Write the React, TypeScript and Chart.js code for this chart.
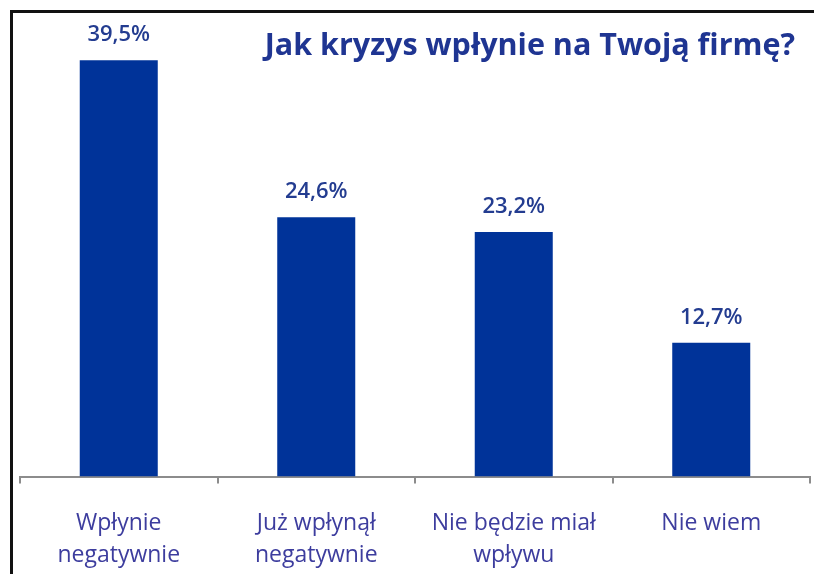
import React, { useEffect, useRef } from "react";
import { Chart, registerables } from "chart.js";

Chart.register(...registerables);

const categories: string[][] = [
  ["Wpłynie", "negatywnie"],
  ["Już wpłynął", "negatywnie"],
  ["Nie będzie miał", "wpływu"],
  ["Nie wiem"],
];
const values: number[] = [39.5, 24.6, 23.2, 12.7];
const titleText = "Jak kryzys wpłynie na Twoją firmę?";

const BAR = "#003399";
const LABEL = "#233c90";
const TITLE = "#1f3592";
const TICK = "#3d3d9e";

const valueLabels = {
  id: "valueLabels",
  afterDatasetsDraw(chart: any) {
    const ctx = chart.ctx;
    const meta = chart.getDatasetMeta(0);
    ctx.save();
    ctx.font = "600 22px 'Open Sans'";
    ctx.fillStyle = LABEL;
    ctx.textAlign = "center";
    ctx.textBaseline = "alphabetic";
    meta.data.forEach((el: any, i: number) => {
      const v = chart.data.datasets[0].data[i] as number;
      const t = v.toFixed(1).replace(".", ",") + "%";
      ctx.fillText(t, el.x, el.y - 19);
    });
    ctx.restore();
  },
};

const titlePlugin = {
  id: "cornerTitle",
  afterDraw(chart: any) {
    const ctx = chart.ctx;
    ctx.save();
    ctx.font = "bold 30.5px 'Open Sans'";
    ctx.fillStyle = TITLE;
    ctx.textAlign = "right";
    ctx.textBaseline = "alphabetic";
    ctx.fillText(titleText, chart.chartArea.right - 15, 55);
    ctx.restore();
  },
};

export default function App() {
  const ref = useRef<HTMLCanvasElement | null>(null);
  useEffect(() => {
    document.body.style.margin = "0";
    const chart = new Chart(ref.current!, {
      type: "bar",
      data: {
        labels: categories,
        datasets: [
          {
            data: values,
            backgroundColor: BAR,
            borderWidth: 0,
            categoryPercentage: 1,
            barPercentage: 0.395,
          },
        ],
      },
      options: {
        animation: false,
        responsive: false,
        maintainAspectRatio: false,
        layout: { padding: { top: 55, left: 20, right: 4, bottom: 4 } },
        plugins: {
          legend: { display: false },
          tooltip: { enabled: false },
          title: { display: false },
        },
        scales: {
          x: {
            grid: {
              display: true,
              drawOnChartArea: false,
              drawTicks: true,
              tickLength: 7,
              color: "#8c8c8c",
              lineWidth: 2,
              offset: true,
            },
            border: { display: true, color: "#8c8c8c", width: 2 },
            ticks: {
              color: TICK,
              padding: 24,
              maxRotation: 0,
              autoSkip: false,
              font: { family: "'Open Sans'", size: 23, lineHeight: 1.4 },
            },
          },
          y: {
            display: false,
            min: 0,
            max: 40,
          },
        },
      },
      plugins: [valueLabels, titlePlugin],
    });
    return () => chart.destroy();
  }, []);
  return (
    <div style={{ position: "relative", width: 814, height: 574, overflow: "hidden", background: "#fff" }}>
      <div
        style={{
          position: "absolute",
          left: 10,
          top: 10,
          width: 900,
          height: 700,
          border: "3px solid #111",
          boxSizing: "border-box",
        }}
      />
      <canvas ref={ref} width={814} height={600} style={{ position: "absolute", left: 0, top: 0 }} />
    </div>
  );
}
